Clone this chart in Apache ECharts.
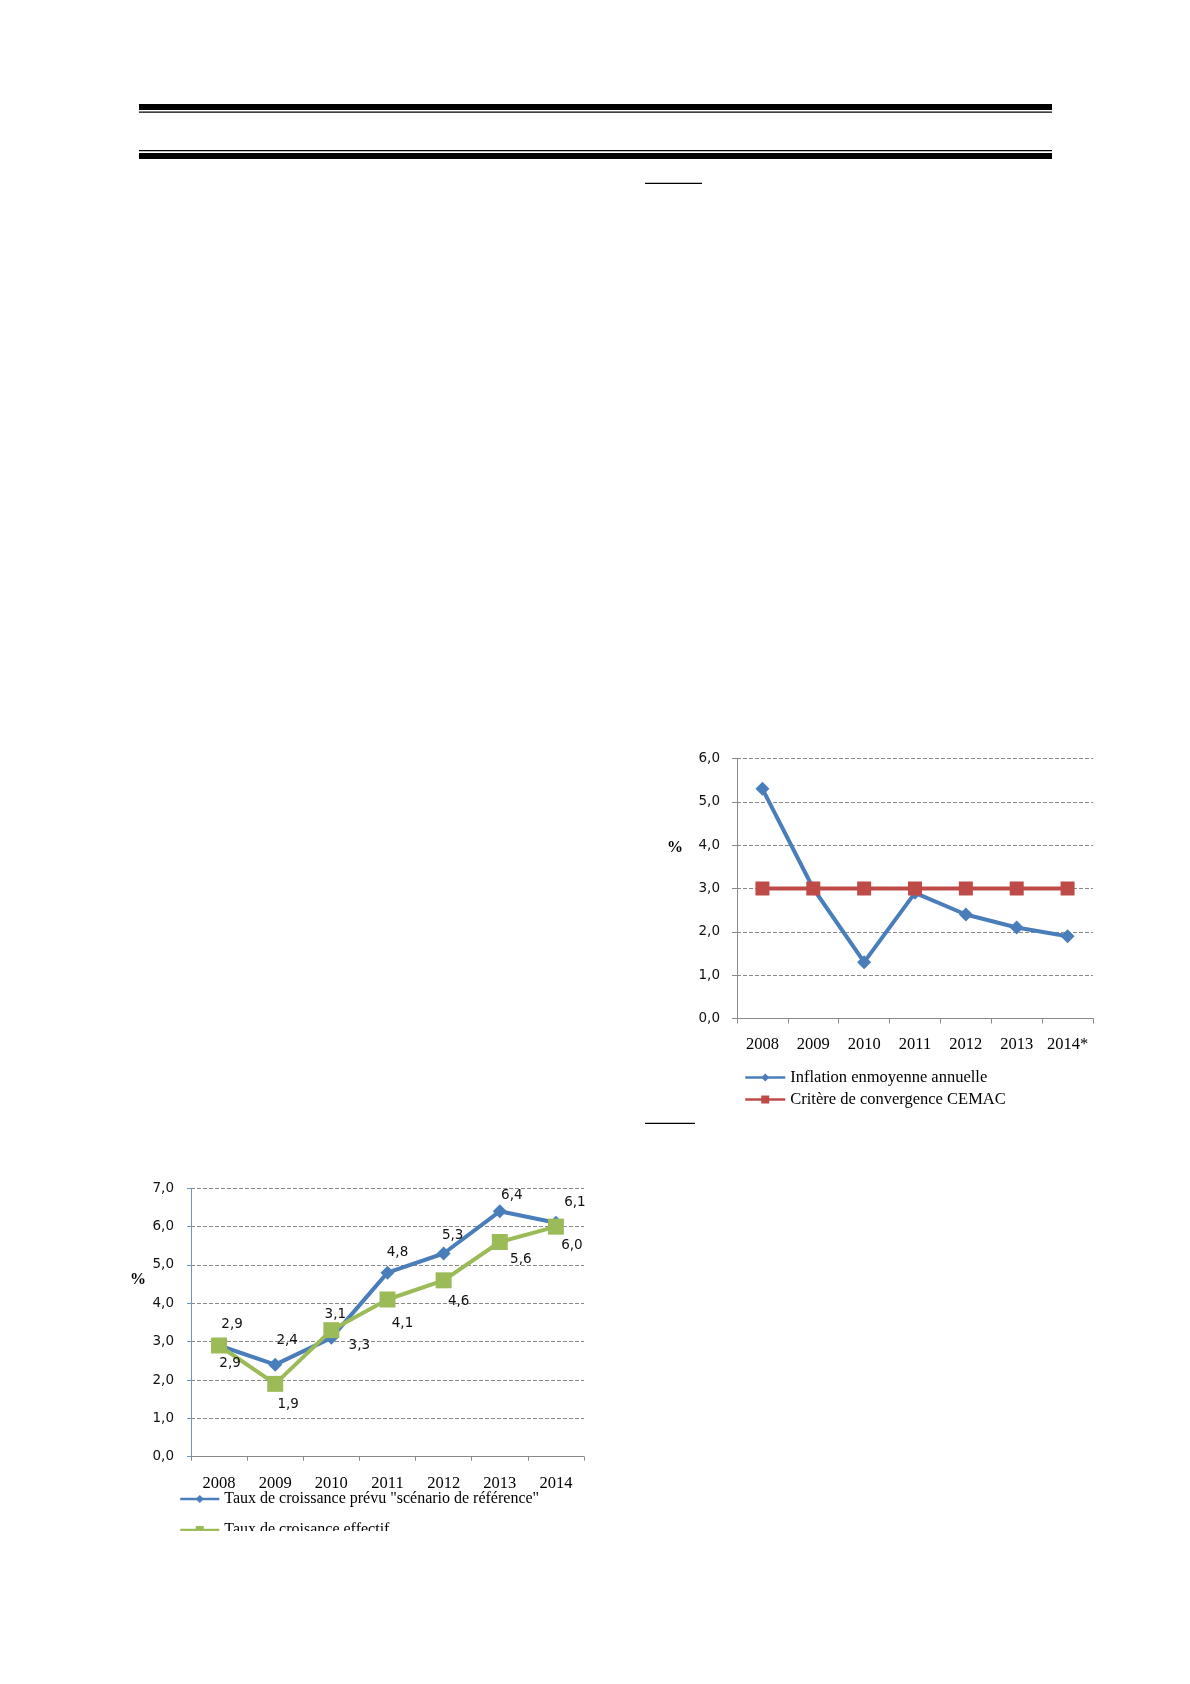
<!DOCTYPE html>
<html><head><meta charset="utf-8">
<script src="https://cdn.jsdelivr.net/npm/echarts@6/dist/echarts.min.js"></script>
<style>html,body{margin:0;padding:0;background:#fff}#c{width:1190px;height:1684px}</style>
</head><body><div id="c"></div>
<script>
// ---- Data: inflation chart (right) ----
const yearsInfl = ['2008', '2009', '2010', '2011', '2012', '2013', '2014*'];
const inflation = [5.3, 3.0, 1.3, 2.9, 2.4, 2.1, 1.9];
const critereCEMAC = [3.0, 3.0, 3.0, 3.0, 3.0, 3.0, 3.0];
const inflYMin = 0, inflYMax = 6, inflYStep = 1;

// ---- Data: growth chart (left) ----
const yearsGrowth = ['2008', '2009', '2010', '2011', '2012', '2013', '2014'];
const tauxPrevu = [2.9, 2.4, 3.1, 4.8, 5.3, 6.4, 6.1];
const tauxEffectif = [2.9, 1.9, 3.3, 4.1, 4.6, 5.6, 6.0];
const growthYMin = 0, growthYMax = 7, growthYStep = 1;

// label nudges (relative, px)
const prevuLabelShift = [[13,-21],[12,-24],[4,-23],[10,-20],[9,-18],[12,-16],[19,-20]];
const effectifLabelShift = [[11,18],[13,21],[28,15],[15,24],[15,21],[21,18],[16,19]];

const BLUE = '#4A7EBB', RED = '#BE4B48', GREEN = '#9BBB59';
const SERIF = 'Liberation Serif';
const SANS = 'DejaVu Sans';
const NUMSIZE = 13.5;
const fmt = v => Number(v).toFixed(1).replace('.', ',');

const gridLine = {show: true, lineStyle: {color: '#8a8a8a', width: 1, type: [4, 2]}};

function withLabels(vals, shifts) {
  return vals.map((v, i) => ({value: v, label: {offset: shifts[i]}}));
}

const chart = echarts.init(document.getElementById('c'), null, {renderer: 'canvas'});
chart.setOption({
  animation: false,
  backgroundColor: '#fff',
  grid: [
    {left: 737, top: 758.5, width: 356, height: 260},
    {left: 191, top: 1188.3, width: 393, height: 268.4}
  ],
  xAxis: [
    {type: 'category', gridIndex: 0, data: yearsInfl, boundaryGap: true,
     axisLine: {lineStyle: {color: '#8a8a8a', width: 1}},
     axisTick: {show: true, length: 5, interval: 0, lineStyle: {color: '#8a8a8a'}},
     axisLabel: {margin: 18, interval: 0, fontFamily: SERIF, fontSize: 16.5, color: '#000'}},
    {type: 'category', gridIndex: 1, data: yearsGrowth, boundaryGap: true,
     axisLine: {lineStyle: {color: '#8a8a8a', width: 1}},
     axisTick: {show: true, length: 4, interval: 0, lineStyle: {color: '#8a8a8a'}},
     axisLabel: {margin: 18, interval: 0, fontFamily: SERIF, fontSize: 16.5, color: '#000'}}
  ],
  yAxis: [
    {type: 'value', gridIndex: 0, min: inflYMin, max: inflYMax, interval: inflYStep,
     axisLine: {show: true, lineStyle: {color: '#8a8a8a'}},
     axisTick: {show: true, length: 5, lineStyle: {color: '#8a8a8a'}},
     splitLine: gridLine,
     axisLabel: {margin: 17, fontFamily: SANS, fontSize: NUMSIZE, color: '#111', formatter: fmt}},
    {type: 'value', gridIndex: 1, min: growthYMin, max: growthYMax, interval: growthYStep,
     axisLine: {show: true, lineStyle: {color: '#7393bd'}},
     axisTick: {show: true, length: 4, lineStyle: {color: '#7393bd'}},
     splitLine: gridLine,
     axisLabel: {margin: 17, fontFamily: SANS, fontSize: NUMSIZE, color: '#111', formatter: fmt}}
  ],
  legend: [
    {data: ['Inflation enmoyenne annuelle', 'Critère de convergence CEMAC'],
     orient: 'vertical', left: 739, top: 1064, itemWidth: 40, itemHeight: 10, itemGap: 5,
     lineStyle: {width: 2.5},
     textStyle: {fontFamily: SERIF, fontSize: 16.5, color: '#000', lineHeight: 14}},
    {data: ['Taux de croissance prévu "scénario de référence"', 'Taux de croisance effectif'],
     orient: 'vertical', left: 174, top: 1486, itemWidth: 39, itemHeight: 10, itemGap: 15,
     lineStyle: {width: 2.5},
     textStyle: {fontFamily: SERIF, fontSize: 16, color: '#000', lineHeight: 14}}
  ],
  series: [
    {name: 'Inflation enmoyenne annuelle', type: 'line', xAxisIndex: 0, yAxisIndex: 0,
     data: inflation, symbol: 'diamond', symbolSize: 14,
     lineStyle: {color: BLUE, width: 4}, itemStyle: {color: BLUE}, z: 3},
    {name: 'Critère de convergence CEMAC', type: 'line', xAxisIndex: 0, yAxisIndex: 0,
     data: critereCEMAC, symbol: 'rect', symbolSize: 14,
     lineStyle: {color: RED, width: 4}, itemStyle: {color: RED}, z: 4},
    {name: 'Taux de croissance prévu "scénario de référence"', type: 'line', xAxisIndex: 1, yAxisIndex: 1,
     data: withLabels(tauxPrevu, prevuLabelShift), symbol: 'diamond', symbolSize: 14,
     lineStyle: {color: BLUE, width: 4}, itemStyle: {color: BLUE}, z: 3,
     label: {show: true, position: 'inside', fontFamily: SANS, fontSize: NUMSIZE, color: '#111',
             formatter: p => fmt(p.value)}},
    {name: 'Taux de croisance effectif', type: 'line', xAxisIndex: 1, yAxisIndex: 1,
     data: withLabels(tauxEffectif, effectifLabelShift), symbol: 'rect', symbolSize: 16,
     lineStyle: {color: GREEN, width: 4}, itemStyle: {color: GREEN}, z: 4,
     label: {show: true, position: 'inside', fontFamily: SANS, fontSize: NUMSIZE, color: '#111',
             formatter: p => fmt(p.value)}}
  ],
  graphic: [
    // header rules
    {type: 'rect', shape: {x: 139, y: 104, width: 913, height: 6}, style: {fill: '#000'}},
    {type: 'rect', shape: {x: 139, y: 111.5, width: 913, height: 1.3}, style: {fill: '#000'}},
    {type: 'rect', shape: {x: 139, y: 150, width: 913, height: 1.3}, style: {fill: '#000'}},
    {type: 'rect', shape: {x: 139, y: 153, width: 913, height: 6}, style: {fill: '#000'}},
    {type: 'rect', shape: {x: 645, y: 182.7, width: 57, height: 1.3}, style: {fill: '#000'}},
    {type: 'rect', shape: {x: 645, y: 1122.7, width: 50, height: 1.3}, style: {fill: '#000'}},
    // % axis titles
    {type: 'text', x: 675, y: 848, style: {text: '%', font: 'bold 16px "Liberation Serif"', fill: '#000', align: 'center', verticalAlign: 'middle'}},
    {type: 'text', x: 138, y: 1280, style: {text: '%', font: 'bold 16px "Liberation Serif"', fill: '#000', align: 'center', verticalAlign: 'middle'}},
    // crop of the lower legend line (as in the source page)
    {type: 'rect', z: 100, shape: {x: 150, y: 1531, width: 450, height: 40}, style: {fill: '#fff'}}
  ]
});
</script>
</body></html>
